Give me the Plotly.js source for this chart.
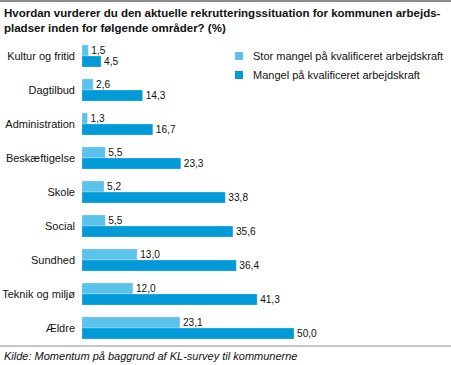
<!DOCTYPE html>
<html>
<head>
<meta charset="utf-8">
<script src="https://cdn.plot.ly/plotly-3.0.1.min.js"></script>
<style>
html,body{margin:0;padding:0;background:#fff;overflow:hidden;}
#chart{width:451px;height:365px;}
</style>
</head>
<body>
<div id="chart"></div>
<script>
var categories = ["Kultur og fritid","Dagtilbud","Administration","Beskæftigelse","Skole","Social","Sundhed","Teknik og miljø","Ældre"];
var storMangel = [1.5,2.6,1.3,5.5,5.2,5.5,13.0,12.0,23.1];
var mangel = [4.5,14.3,16.7,23.3,33.8,35.6,36.4,41.3,50.0];
var seriesNames = ["Stor mangel på kvalificeret arbejdskraft","Mangel på kvalificeret arbejdskraft"];
var titleText = "Hvordan vurderer du den aktuelle rekrutteringssituation for kommunen arbejds-<br>pladser inden for følgende områder? (%)";
var sourceText = "Kilde: Momentum på baggrund af KL-survey til kommunerne";

var W = 451, H = 365;
var M = {l: 82, r: 0, t: 39, b: 20};
var PW = W - M.l - M.r, PH = H - M.t - M.b;
function px(x){ return (x - M.l) / PW; }
function py(y){ return 1 - (y - M.t) / PH; }

var colLight = "#5bc2eb", colDark = "#009ad8";
var font = "Liberation Sans, Arial, Helvetica, sans-serif";
function fmt(v){ return v.toFixed(1).replace('.', ','); }

var traces = [
  {type:'bar', orientation:'h', y:categories, x:storMangel, name:seriesNames[0],
   marker:{color:colLight, line:{color:'rgba(255,255,255,0.5)', width:0.5}},
   text:storMangel.map(fmt), textposition:'outside', cliponaxis:false,
   textfont:{family:font, size:11, color:'#111'}, showlegend:false, hoverinfo:'none'},
  {type:'bar', orientation:'h', y:categories, x:mangel, name:seriesNames[1],
   marker:{color:colDark, line:{color:'rgba(255,255,255,0.5)', width:0.5}},
   text:mangel.map(fmt), textposition:'outside', cliponaxis:false,
   textfont:{family:font, size:11, color:'#111'}, showlegend:false, hoverinfo:'none'}
];

var shapes = [
  {type:'line', xref:'paper', yref:'paper', x0:px(0), x1:px(W), y0:py(1), y1:py(1), line:{color:'#8c8c8c', width:2}},
  {type:'line', xref:'paper', yref:'paper', x0:px(0), x1:px(W), y0:py(346), y1:py(346), line:{color:'#8c8c8c', width:1}},
  {type:'rect', xref:'paper', yref:'paper', x0:px(235), x1:px(243), y0:py(52), y1:py(60), fillcolor:colLight, line:{width:0}},
  {type:'rect', xref:'paper', yref:'paper', x0:px(235), x1:px(243), y0:py(71), y1:py(79), fillcolor:colDark, line:{width:0}}
];

var annotations = [
  {xref:'paper', yref:'paper', x:px(2), y:py(5), xanchor:'left', yanchor:'top', align:'left', showarrow:false,
   text:'<b>' + titleText + '</b>', font:{family:font, size:11.5, color:'#111'}},
  {xref:'paper', yref:'paper', x:px(251), y:py(56), xanchor:'left', yanchor:'middle', showarrow:false,
   text:seriesNames[0], font:{family:font, size:11, color:'#111'}},
  {xref:'paper', yref:'paper', x:px(251), y:py(75), xanchor:'left', yanchor:'middle', showarrow:false,
   text:seriesNames[1], font:{family:font, size:11, color:'#111'}},
  {xref:'paper', yref:'paper', x:px(2), y:py(356), xanchor:'left', yanchor:'middle', showarrow:false,
   text:'<i>' + sourceText + '</i>', font:{family:font, size:11, color:'#111'}}
];

var layout = {
  width:W, height:H, margin:M,
  paper_bgcolor:'#fff', plot_bgcolor:'#fff',
  barmode:'group', bargap:0.35, bargroupgap:0,
  xaxis:{range:[0, PW/4.24], showgrid:false, zeroline:false, showticklabels:false, showline:false, ticks:'', fixedrange:true},
  yaxis:{autorange:'reversed', showgrid:false, zeroline:false, showline:false, ticks:'', ticklabelstandoff:6,
         tickfont:{family:font, size:11, color:'#111'}, fixedrange:true},
  shapes:shapes, annotations:annotations,
  font:{family:font, size:11, color:'#111'},
  uniformtext:{mode:false}
};

Plotly.newPlot('chart', traces, layout, {displayModeBar:false, staticPlot:true});
</script>
</body>
</html>
